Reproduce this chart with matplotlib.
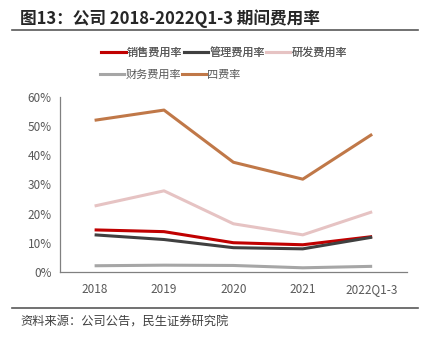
import matplotlib.pyplot as plt
from matplotlib.lines import Line2D
from matplotlib.ticker import FuncFormatter

plt.rcParams['font.family'] = ['Noto Sans CJK SC', 'DejaVu Sans']

years = ['2018', '2019', '2020', '2021', '2022Q1-3']
sales = [14.4, 13.8, 10.0, 9.3, 12.1]
admin = [12.7, 11.1, 8.3, 7.9, 11.9]
rnd = [22.6, 27.8, 16.5, 12.7, 20.6]
finance = [2.1, 2.3, 2.2, 1.4, 1.9]
four = [52.0, 55.5, 37.6, 31.8, 47.2]

series = [
    ('销售费用率', sales, '#c00000'),
    ('管理费用率', admin, '#404040'),
    ('研发费用率', rnd, '#e6c3c3'),
    ('财务费用率', finance, '#a6a6a6'),
    ('四费率', four, '#c07848'),
]

fig = plt.figure(figsize=(4.31, 3.39), dpi=100)
ax = fig.add_axes([0.139, 0.198, 0.805, 0.516])

x = list(range(len(years)))
for name, vals, color in series:
    ax.plot(x, vals, color=color, lw=2.2, solid_capstyle='butt')

ax.set_xlim(-0.5, len(years) - 0.5)
ax.set_ylim(0, 60)
ax.set_yticks(range(0, 61, 10))
ax.yaxis.set_major_formatter(FuncFormatter(lambda v, p: f'{v:.0f}%'))
ax.set_xticks(x)
ax.set_xticklabels(years)
ax.tick_params(length=0, labelsize=8.5, colors='#595959', pad=6)
ax.tick_params(axis='x', pad=8)
for s in ['top', 'right']:
    ax.spines[s].set_visible(False)
for s in ['left', 'bottom']:
    ax.spines[s].set_color('#808080')
    ax.spines[s].set_linewidth(0.9)

# legend
handles = [Line2D([], [], color=c, lw=2.2) for _, _, c in series]
labels = [n for n, _, _ in series]
leg1 = fig.legend(handles[:3], labels[:3], loc='center', bbox_to_anchor=(0.52, 0.845),
                  ncol=3, frameon=False, fontsize=8, handlelength=2.2, handletextpad=0.1,
                  columnspacing=0.1, labelcolor='#595959')
leg2 = fig.legend(handles[3:], labels[3:], loc='center left', bbox_to_anchor=(0.208, 0.78),
                  ncol=2, frameon=False, fontsize=8, handlelength=2.2, handletextpad=0.1,
                  columnspacing=0.1, labelcolor='#595959')
fig.add_artist(leg1)

# title and source
fig.text(0.047, 0.945, '图13：公司 2018-2022Q1-3 期间费用率', fontsize=12, fontweight='bold',
         color='#262626', va='center')
fig.add_artist(Line2D([0.028, 0.97], [0.911, 0.911], color='#595959', lw=1.2))
fig.add_artist(Line2D([0.028, 0.97], [0.091, 0.091], color='#595959', lw=1.2))
fig.text(0.047, 0.05, '资料来源：公司公告，民生证券研究院', fontsize=8.8, color='#404040', va='center')

fig.savefig('out.png', dpi=100)
